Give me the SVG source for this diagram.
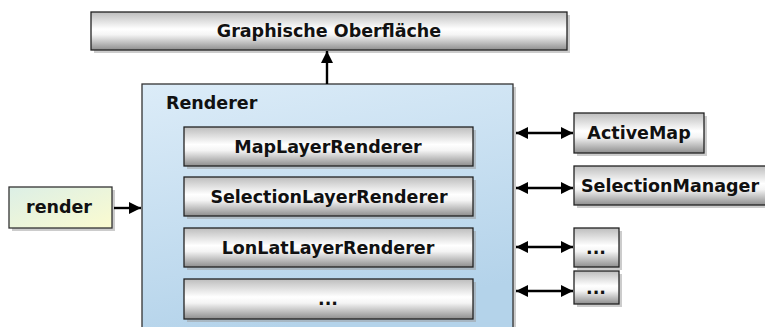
<svg xmlns="http://www.w3.org/2000/svg" width="765" height="327" viewBox="0 0 765 327">
<defs>
<linearGradient id="gGray" x1="0" y1="0" x2="0" y2="1">
<stop offset="0" stop-color="#bdbdbd"/>
<stop offset="0.45" stop-color="#ffffff"/>
<stop offset="0.6" stop-color="#f4f4f4"/>
<stop offset="1" stop-color="#8e8e8e"/>
</linearGradient>
<linearGradient id="gBlue" x1="0" y1="0" x2="0.3" y2="1">
<stop offset="0" stop-color="#dcecf8"/>
<stop offset="1" stop-color="#b4d3ea"/>
</linearGradient>
<linearGradient id="gYellow" x1="0" y1="0" x2="1" y2="1">
<stop offset="0" stop-color="#dcefe6"/>
<stop offset="1" stop-color="#fbfbd0"/>
</linearGradient>
<marker id="ah" viewBox="0 0 12 12" refX="12" refY="6" markerWidth="12" markerHeight="12" markerUnits="userSpaceOnUse" orient="auto-start-reverse">
<path d="M0,0 L12,6 L0,12 z" fill="#000"/>
</marker>
</defs>
<style>
.sh{fill:#9a9a9a;opacity:0.5}
.box{fill:url(#gGray);stroke:#222;stroke-width:1.3}
.t{font-family:"DejaVu Sans",Verdana,sans-serif;font-weight:bold;font-size:17.5px;fill:#111;text-anchor:middle;dominant-baseline:central}
.conn{stroke:#000;stroke-width:2.4;fill:none}
</style>
<rect width="765" height="327" fill="#fff"/>

<g id="graphische-oberflaeche">
<rect class="sh" x="94" y="15" width="476" height="38"/>
<rect class="box" x="91" y="12" width="476" height="38"/>
<text class="t" x="329" y="31">Graphische Oberfläche</text>
</g>

<g id="renderer">
<rect class="sh" x="145" y="87" width="371" height="250"/>
<rect x="142" y="84" width="371" height="250" fill="url(#gBlue)" stroke="#333" stroke-width="1.3"/>
<text class="t" x="166" y="103" style="text-anchor:start">Renderer</text>
</g>

<g id="maplayerrenderer">
<rect class="sh" x="187" y="130" width="289" height="39"/>
<rect class="box" x="184" y="127" width="289" height="39"/>
<text class="t" x="328" y="147">MapLayerRenderer</text>
</g>
<g id="selectionlayerrenderer">
<rect class="sh" x="187" y="180" width="289" height="39"/>
<rect class="box" x="184" y="177" width="289" height="39"/>
<text class="t" x="329" y="197">SelectionLayerRenderer</text>
</g>
<g id="lonlatlayerrenderer">
<rect class="sh" x="187" y="231" width="289" height="39"/>
<rect class="box" x="184" y="228" width="289" height="39"/>
<text class="t" x="328" y="248">LonLatLayerRenderer</text>
</g>
<g id="more-renderer">
<rect class="sh" x="187" y="282" width="289" height="40"/>
<rect class="box" x="184" y="279" width="289" height="40"/>
<text class="t" x="328" y="299">...</text>
</g>

<g id="render">
<rect class="sh" x="12" y="190" width="103" height="41"/>
<rect x="9" y="187" width="103" height="41" fill="url(#gYellow)" stroke="#333" stroke-width="1.3"/>
<text class="t" x="59" y="207">render</text>
</g>

<g id="activemap">
<rect class="sh" x="577" y="116" width="130" height="40"/>
<rect class="box" x="574" y="113" width="130" height="40"/>
<text class="t" x="639" y="133">ActiveMap</text>
</g>
<g id="selectionmanager">
<rect class="sh" x="577" y="169" width="195" height="39"/>
<rect class="box" x="574" y="166" width="195" height="39"/>
<text class="t" x="581" y="186" style="text-anchor:start">SelectionManager</text>
</g>
<g id="more-1">
<rect class="sh" x="577" y="231" width="45" height="39"/>
<rect class="box" x="574" y="228" width="45" height="39"/>
<text class="t" x="596" y="248">...</text>
</g>
<g id="more-2">
<rect class="sh" x="577" y="274" width="45" height="33"/>
<rect class="box" x="574" y="271" width="45" height="33"/>
<text class="t" x="596" y="288">...</text>
</g>

<g id="connectors">
<line class="conn" x1="327" y1="84" x2="327" y2="51" marker-end="url(#ah)"/>
<line class="conn" x1="114" y1="208" x2="141" y2="208" marker-end="url(#ah)"/>
<line class="conn" x1="516" y1="133" x2="573" y2="133" marker-start="url(#ah)" marker-end="url(#ah)"/>
<line class="conn" x1="516" y1="188" x2="573" y2="188" marker-start="url(#ah)" marker-end="url(#ah)"/>
<line class="conn" x1="516" y1="247" x2="573" y2="247" marker-start="url(#ah)" marker-end="url(#ah)"/>
<line class="conn" x1="516" y1="291" x2="573" y2="291" marker-start="url(#ah)" marker-end="url(#ah)"/>
</g>
</svg>
